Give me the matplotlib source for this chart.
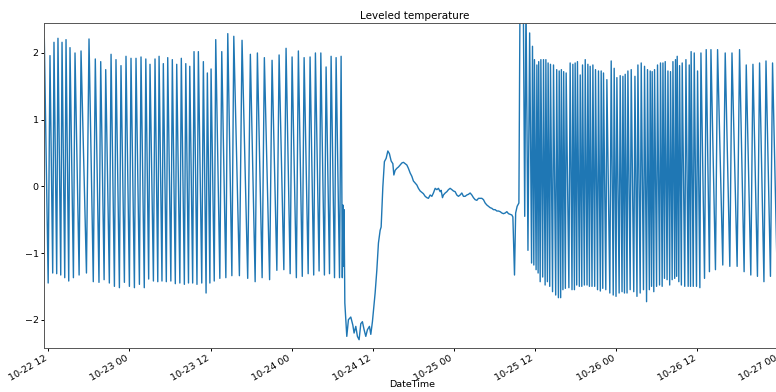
import pandas as pd
import matplotlib
matplotlib.use("Agg")
import matplotlib.pyplot as plt
import matplotlib.dates as mdates

START = pd.Timestamp("2021-10-22 12:00")
TROUGH_AT = 0.68  # troughs sit about two thirds of the way to the next peak

# First cycling stretch: peak times (hours after START), peak values,
# and the trough reached between each peak and the following one.
a_peak_h = [-0.59, 0.25, 0.84, 1.43, 2.03, 2.62, 3.21, 3.95, 4.84, 6.02,
            6.95, 7.75, 8.49, 9.28, 10.01, 10.75, 11.49, 12.23, 12.97, 13.71,
            14.42, 15.04, 15.78, 16.38, 17.01, 17.66, 18.34, 18.99, 19.67, 20.33,
            20.92, 21.55, 22.19, 22.93, 23.52, 24.07, 24.76, 25.65, 26.54, 27.43,
            28.65, 29.88, 30.92, 31.95, 33.09, 34.13, 35.16, 36.05, 36.98, 37.83,
            38.71, 39.50, 40.30, 41.08, 41.82, 42.56, 43.30]
a_peak_v = [2.21, 1.96, 2.16, 2.22, 2.16, 2.20, 2.08, 2.00, 2.03, 2.21,
            1.91, 1.87, 1.75, 1.98, 1.90, 1.81, 1.95, 1.92, 1.92, 1.94,
            1.91, 1.83, 1.91, 1.95, 1.84, 1.93, 1.90, 1.83, 1.92, 1.84,
            1.80, 2.02, 2.02, 1.87, 1.70, 1.76, 2.20, 2.02, 2.29, 2.25,
            2.19, 1.98, 2.00, 1.93, 1.89, 1.97, 2.07, 1.94, 2.03, 1.93,
            1.94, 2.00, 2.00, 1.79, 1.95, 1.93, 1.95]
a_trough_v = [-1.45, -1.30, -1.31, -1.33, -1.37, -1.42, -1.37, -1.33, -1.30, -1.43,
              -1.44, -1.40, -1.45, -1.50, -1.52, -1.44, -1.50, -1.52, -1.47, -1.52,
              -1.39, -1.42, -1.43, -1.42, -1.43, -1.42, -1.46, -1.45, -1.47, -1.45,
              -1.45, -1.47, -1.45, -1.60, -1.45, -1.42, -1.38, -1.37, -1.34, -1.34,
              -1.38, -1.43, -1.37, -1.40, -1.26, -1.25, -1.31, -1.37, -1.35, -1.31,
              -1.33, -1.27, -1.33, -1.31, -1.37, -1.37]

# Drop-out, slow recovery and restart.
b_hours = [43.48, 43.57, 43.67, 43.74, 43.85, 44.14, 44.38, 44.73, 45.03, 45.22,
           45.47, 45.71, 45.96, 46.21, 46.45, 46.70, 46.95, 47.19, 47.49, 47.69,
           47.93, 48.33, 48.58, 48.82, 49.07, 49.22, 49.47, 49.70, 49.96, 50.21,
           50.44, 50.70, 50.95, 51.10, 51.29, 51.54, 51.78, 52.03, 52.28, 52.52,
           52.77, 53.02, 53.25, 53.51, 53.76, 53.99, 54.25, 54.50, 54.73, 54.99,
           55.24, 55.47, 55.73, 55.98, 56.21, 56.47, 56.72, 56.95, 57.21, 57.46,
           57.69, 57.95, 58.09, 58.29, 58.43, 58.69, 58.94, 59.17, 59.42, 59.68,
           59.91, 60.16, 60.41, 60.65, 60.90, 61.15, 61.39, 61.64, 61.89, 62.13,
           62.38, 62.63, 62.87, 63.12, 63.37, 63.61, 63.86, 64.11, 64.35, 64.60,
           64.85, 65.09, 65.34, 65.59, 65.83, 66.08, 66.33, 66.57, 66.82, 67.07,
           67.31, 67.56, 67.81, 68.05, 68.30, 68.55, 68.70, 68.94, 69.11, 69.33,
           69.59, 69.78, 70.22, 70.45, 70.64, 70.93]
b_values = [-1.37, -0.28, -1.20, -0.35, -1.75, -2.25, -2.00, -1.96, -2.08, -2.20,
            -2.10, -2.25, -2.30, -2.06, -2.03, -2.15, -2.25, -2.15, -2.10, -2.22,
            -2.03, -1.60, -1.26, -0.85, -0.66, -0.61, -0.01, 0.37, 0.42, 0.53,
            0.49, 0.38, 0.34, 0.17, 0.24, 0.27, 0.29, 0.32, 0.35, 0.36,
            0.34, 0.32, 0.27, 0.20, 0.15, 0.08, 0.05, 0.02, -0.03, -0.07,
            -0.09, -0.11, -0.15, -0.17, -0.18, -0.13, -0.15, -0.10, -0.03, -0.05,
            -0.03, -0.08, -0.06, -0.17, -0.13, -0.10, -0.08, -0.05, -0.03, -0.05,
            -0.07, -0.08, -0.13, -0.15, -0.13, -0.10, -0.15, -0.15, -0.13, -0.12,
            -0.10, -0.13, -0.17, -0.20, -0.21, -0.18, -0.18, -0.18, -0.20, -0.25,
            -0.28, -0.30, -0.32, -0.33, -0.35, -0.35, -0.37, -0.37, -0.38, -0.40,
            -0.41, -0.40, -0.38, -0.41, -0.42, -0.43, -0.46, -1.33, -0.40, -0.30,
            -0.25, 3.30, 3.10, -0.45, 2.80, -0.96]

# Second cycling stretch.
c_peak_h = [71.18, 71.60, 71.89, 72.25, 72.52, 72.84, 73.23, 73.58, 73.91, 74.26,
            74.71, 75.18, 75.55, 75.87, 76.21, 76.58, 77.17, 77.57, 77.91, 78.25,
            78.66, 79.00, 79.40, 79.79, 80.13, 80.53, 80.92, 81.36, 81.76, 82.10,
            82.60, 83.24, 83.68, 84.08, 84.57, 84.97, 85.31, 85.71, 86.20, 86.75,
            87.19, 87.68, 88.17, 88.61, 89.01, 89.30, 89.65, 90.09, 90.53, 90.89,
            91.23, 91.63, 92.01, 92.37, 92.75, 93.00, 93.35, 93.74, 94.29, 94.78,
            95.06, 95.52, 96.01, 96.51, 97.29, 97.99, 98.97, 100.10, 101.10, 102.22,
            103.21, 104.20, 105.18, 106.13, 107.10, 108.08]
c_peak_v = [2.30, 2.10, 1.90, 1.82, 1.87, 1.90, 1.90, 1.90, 1.85, 1.83,
            1.82, 1.75, 1.73, 1.75, 1.72, 1.70, 1.85, 1.83, 1.85, 1.87,
            1.67, 1.82, 1.90, 1.83, 1.80, 1.82, 1.75, 1.73, 1.73, 1.70,
            1.60, 1.88, 1.77, 1.63, 1.66, 1.65, 1.68, 1.73, 1.75, 1.65,
            1.82, 1.85, 1.80, 1.75, 1.73, 1.72, 1.75, 1.82, 1.85, 1.85,
            1.87, 1.73, 1.72, 1.87, 1.90, 1.95, 1.81, 1.85, 1.90, 1.82,
            2.02, 2.00, 1.73, 2.00, 2.05, 2.05, 2.05, 2.00, 2.00, 2.05,
            1.82, 1.83, 1.85, 1.88, 1.85, 1.85]
c_trough_v = [-1.15, -1.18, -1.25, -1.30, -1.43, -1.36, -1.48, -1.43, -1.50, -1.58,
              -1.63, -1.67, -1.67, -1.55, -1.53, -1.52, -1.55, -1.55, -1.48, -1.50,
              -1.50, -1.48, -1.48, -1.50, -1.50, -1.50, -1.55, -1.57, -1.53, -1.55,
              -1.60, -1.63, -1.65, -1.60, -1.58, -1.60, -1.60, -1.55, -1.58, -1.65,
              -1.60, -1.55, -1.73, -1.55, -1.50, -1.58, -1.50, -1.48, -1.50, -1.38,
              -1.40, -1.48, -1.40, -1.38, -1.35, -1.43, -1.48, -1.50, -1.50, -1.50,
              -1.50, -1.50, -1.52, -1.38, -1.28, -1.25, -1.18, -1.20, -1.20, -1.28,
              -1.33, -1.35, -1.43, -1.35, -1.25, -1.20]
c_end_h = 109.09

y_ticks = [-2, -1, 0, 1, 2]


def cycle_points(peak_h, peak_v, trough_v, tail_h=None):
    """Each peak followed by the trough reached before the next rise."""
    hours, vals = [], []
    for i, (h, v) in enumerate(zip(peak_h, peak_v)):
        hours.append(h)
        vals.append(v)
        if i < len(trough_v):
            if i + 1 < len(peak_h):
                t = h + TROUGH_AT * (peak_h[i + 1] - h)
            else:
                t = tail_h
            hours.append(t)
            vals.append(trough_v[i])
    return hours, vals


ah, av = cycle_points(a_peak_h, a_peak_v, a_trough_v)
ch, cv = cycle_points(c_peak_h, c_peak_v, c_trough_v, c_end_h)
hours = ah + b_hours + ch
values = av + b_values + cv

series = pd.Series(values, index=START + pd.to_timedelta(hours, unit="h"))

fig = plt.figure(figsize=(7.76, 3.92), dpi=100)
ax = fig.add_axes([0.0571, 0.1130, 0.9558, 0.8276])
ax.plot(series.index, series.values, color="#1f77b4", linewidth=1.0)

ax.set_xlim(series.index[0], series.index[-1])
ax.set_ylim(-2.42, 2.445)
ax.set_yticks(y_ticks)

ax.xaxis.set_major_locator(mdates.HourLocator(byhour=[0, 12]))
ax.xaxis.set_major_formatter(mdates.DateFormatter("%m-%d %H"))
ax.tick_params(axis="both", labelsize=6.8, length=2.5, width=0.7, pad=1.5)
ax.tick_params(axis="x", labelrotation=30)

for sp in ax.spines.values():
    sp.set_linewidth(0.7)
    sp.set_color("#555555")

ax.set_title("Leveled temperature", fontsize=7.5, pad=3)
ax.set_xlabel("DateTime", fontsize=6.8)
ax.xaxis.set_label_coords(0.496, -0.100)

fig.canvas.draw()
for lbl in ax.get_xticklabels():
    lbl.set_horizontalalignment("right")
    lbl.set_rotation_mode("default")

fig.savefig("out.png", dpi=100)
